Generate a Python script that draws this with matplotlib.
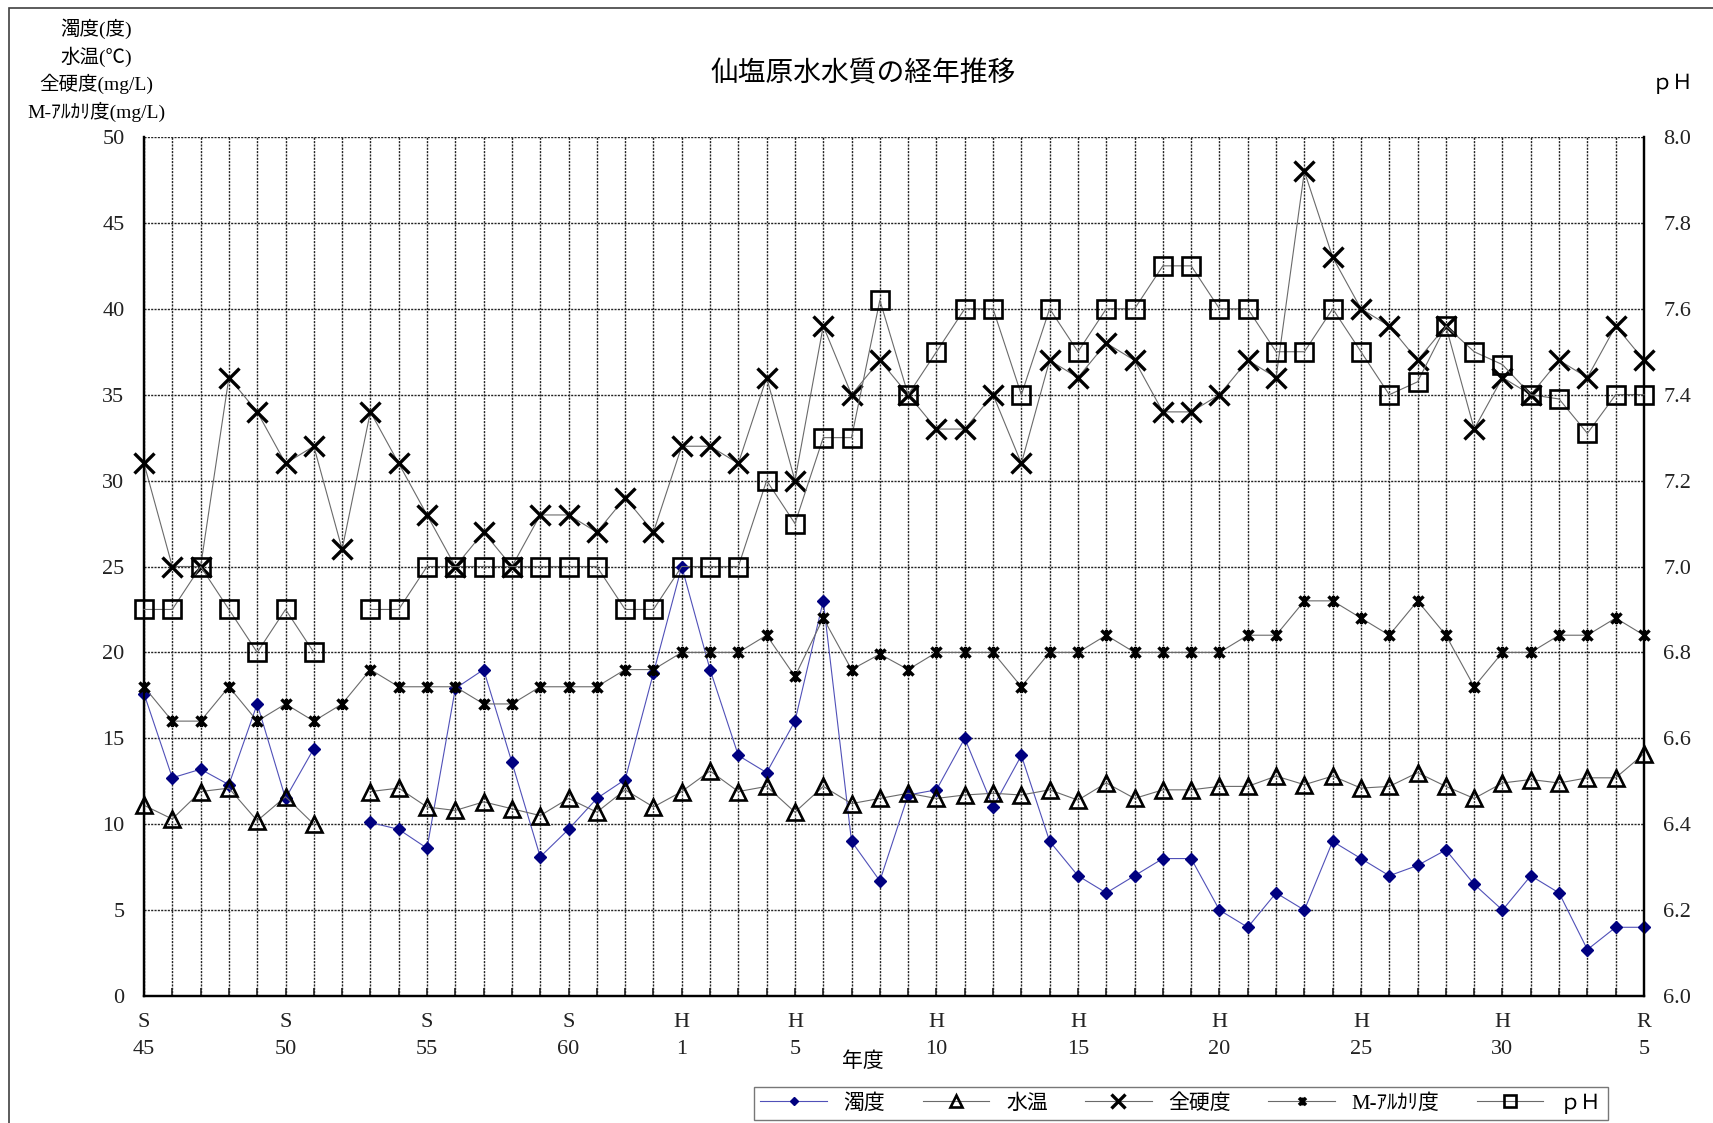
import numpy as np
import matplotlib
matplotlib.use("Agg")
import matplotlib.pyplot as plt
from matplotlib.path import Path
from matplotlib.patches import Rectangle

plt.rcParams["font.family"] = ["Liberation Serif", "Noto Sans CJK JP", "DejaVu Sans"]
plt.rcParams["font.size"] = 13

nan = np.nan
YEARS = list(range(1970, 2024))  # S45 .. R5

turbidity = [17.6, 12.7, 13.2, 12.3, 17.0, 11.5, 14.4, nan, 10.1, 9.7, 8.6, 17.9, 19.0, 13.6,
             8.1, 9.7, 11.5, 12.6, 18.8,
             25.0, 19.0, 14.0, 13.0, 16.0, 23.0, 9.0, 6.7, 11.7, 12.0, 15.0, 11.0, 14.0, 9.0,
             7.0, 6.0, 7.0, 8.0, 8.0, 5.0, 4.0, 6.0, 5.0, 9.0, 8.0, 7.0, 7.6, 8.5, 6.5, 5.0,
             7.0, 6.0, 2.7, 4.0, 4.0]
water_temp = [11.1, 10.3, 11.9, 12.1, 10.2, 11.6, 10.0, nan, 11.9, 12.1, 11.0, 10.8, 11.3, 10.9,
              10.5, 11.5, 10.7, 12.0, 11.0,
              11.9, 13.1, 11.9, 12.2, 10.7, 12.2, 11.2, 11.5, 11.8, 11.5, 11.7, 11.8, 11.7, 12.0,
              11.4, 12.4, 11.5, 12.0, 12.0, 12.2, 12.2, 12.8, 12.3, 12.8, 12.1, 12.2, 13.0, 12.2,
              11.5, 12.4,
              12.6, 12.4, 12.7, 12.7, 14.1]
hardness = [31, 25, 25, 36, 34, 31, 32, 26, 34, 31, 28, 25, 27, 25, 28, 28, 27, 29, 27,
            32, 32, 31, 36, 30, 39, 35, 37, 35, 33, 33, 35, 31, 37, 36, 38, 37, 34, 34, 35,
            37, 36, 48, 43, 40, 39, 37, 39, 33, 36,
            35, 37, 36, 39, 37]
m_alk = [18, 16, 16, 18, 16, 17, 16, 17, 19, 18, 18, 18, 17, 17, 18, 18, 18, 19, 19,
         20, 20, 20, 21, 18.6, 22, 19, 19.9, 19, 20, 20, 20, 18, 20, 20, 21, 20, 20, 20, 20,
         21, 21, 23, 23, 22, 21, 23, 21, 18, 20,
         20, 21, 21, 22, 21]
ph = [6.9, 6.9, 7.0, 6.9, 6.8, 6.9, 6.8, nan, 6.9, 6.9, 7.0, 7.0, 7.0, 7.0, 7.0, 7.0, 7.0,
      6.9, 6.9,
      7.0, 7.0, 7.0, 7.2, 7.1, 7.3, 7.3, 7.62, 7.4, 7.5, 7.6, 7.6, 7.4, 7.6, 7.5, 7.6, 7.6,
      7.7, 7.7, 7.6, 7.6, 7.5, 7.5, 7.6, 7.5, 7.4, 7.43, 7.56, 7.5, 7.47,
      7.4, 7.39, 7.31, 7.4, 7.4]

TICK_YEARS = [1970, 1975, 1980, 1985, 1989, 1993, 1998, 2003, 2008, 2013, 2018, 2023]
TICK_LABELS = ["S\n45", "S\n50", "S\n55", "S\n60", "H\n1", "H\n5", "H\n10", "H\n15",
               "H\n20", "H\n25", "H\n30", "R\n5"]

LINE = "#6a6a6a"
NAVY = "#000080"
star = Path([(-1, -1), (1, 1), (-1, 1), (1, -1), (0, -1.1), (0, 1.1)],
            [Path.MOVETO, Path.LINETO, Path.MOVETO, Path.LINETO, Path.MOVETO, Path.LINETO])

fig = plt.figure(figsize=(17.13, 11.23), dpi=100)
fig.patches.append(Rectangle((9 / 1713, -0.1), 1.2, 1 - 8 / 1123 + 0.1,
                             transform=fig.transFigure, fill=False,
                             edgecolor="#404040", lw=1.2))
ax = fig.add_axes([144 / 1713, 1 - 996 / 1123, 1500 / 1713, 859 / 1123])
ax2 = ax.twinx()

h1, = ax.plot(YEARS, turbidity, color="#5050b8", lw=0.8, marker="D", ms=6,
              mfc=NAVY, mec=NAVY, clip_on=False, zorder=3, label="濁度")
h2, = ax.plot(YEARS, water_temp, color=LINE, lw=0.8, marker="^", ms=12, mfc="none",
              mec="black", mew=1.9, clip_on=False, zorder=3, label="水温")
h3, = ax.plot(YEARS, hardness, color=LINE, lw=0.8, marker="x", ms=14, mec="black",
              mew=2.4, clip_on=False, zorder=3, label="全硬度")
h4, = ax.plot(YEARS, m_alk, color=LINE, lw=0.8, marker=star, ms=8, mec="black",
              mew=2.4, clip_on=False, zorder=3, label="M-ｱﾙｶﾘ度")
h5, = ax2.plot(YEARS, ph, color=LINE, lw=0.8, marker="s", ms=13, mfc="none",
               mec="black", mew=1.9, clip_on=False, zorder=3, label="ｐＨ")

ax.set_xlim(YEARS[0], YEARS[-1])
ax.set_ylim(0, 50)
ax.set_yticks(np.arange(0, 51, 5))
ax2.set_ylim(6.0, 8.0)
ax2.set_yticks(np.arange(6.0, 8.01, 0.2))
ax2.set_yticklabels([f"{v:.1f}" for v in np.arange(6.0, 8.01, 0.2)])

ax.set_xticks(YEARS, minor=True)
ax.set_xticks(TICK_YEARS)
ax.set_xticklabels(TICK_LABELS, linespacing=1.6)
ax.tick_params(axis="x", which="both", direction="in", length=6, width=1.2, pad=12,
               labelsize=16, colors="#222222")
ax.tick_params(axis="y", length=0, pad=14, labelsize=16, colors="#222222")
ax2.tick_params(axis="y", length=0, pad=14, labelsize=16, colors="#222222")

dots = (0, (1.5, 0.9))
ax.grid(True, axis="y", color="#222222", lw=1.0, ls=dots)
ax.grid(True, axis="x", which="both", color="#222222", lw=1.0, ls=dots)
ax.set_axisbelow(True)

for a in (ax, ax2):
    a.spines["top"].set_visible(False)
    for s in ("left", "right", "bottom"):
        a.spines[s].set_linewidth(1.6)
        a.spines[s].set_color("black")

fig.text(863 / 1713, 1 - 74 / 1123, "仙塩原水水質の経年推移", fontsize=20,
         ha="center", va="center")
fig.text(96 / 1713, 1 - 70 / 1123, "濁度(度)\n水温(℃)\n全硬度(mg/L)\nM-ｱﾙｶﾘ度(mg/L)",
         fontsize=14, ha="center", va="center", linespacing=1.45)
fig.text(1673 / 1713, 1 - 84 / 1123, "ｐＨ", fontsize=15, ha="center", va="center")
fig.text(863 / 1713, 1 - 1062 / 1123, "年度", fontsize=15, ha="center", va="center")

leg = fig.legend(handles=[h1, h2, h3, h4, h5], loc="lower left",
                 bbox_to_anchor=(754 / 1713, 3 / 1123, 854 / 1713, 38 / 1123),
                 mode="expand", ncol=5, frameon=True, fancybox=False,
                 edgecolor="#555555", fontsize=15, handlelength=3.2,
                 markerscale=0.7, borderaxespad=0, borderpad=0.3)
leg.get_frame().set_linewidth(1.0)

fig.savefig("out.png", dpi=100)
